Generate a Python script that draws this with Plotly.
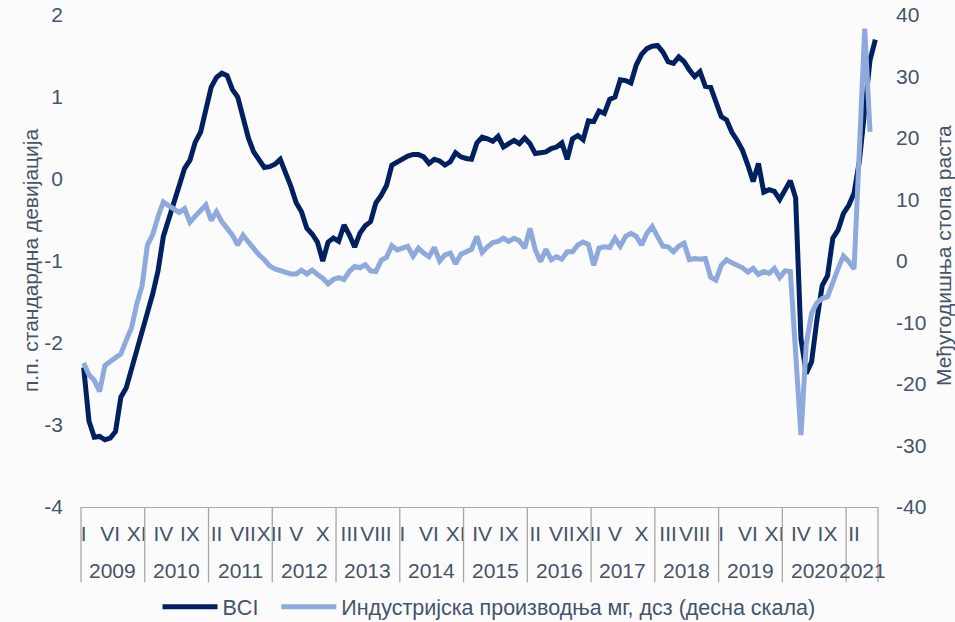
import plotly.graph_objects as go

# Monthly series, Jan 2009 - Jun 2021
years = [2009, 2010, 2011, 2012, 2013, 2014, 2015, 2016, 2017, 2018, 2019, 2020, 2021]
months_in_year = [12, 12, 12, 12, 12, 12, 12, 12, 12, 12, 12, 12, 6]
roman = ["I", "II", "III", "IV", "V", "VI", "VII", "VIII", "IX", "X", "XI", "XII"]

bci = [
    -2.30, -2.95, -3.15, -3.14, -3.18, -3.16, -3.08, -2.66, -2.55, -2.33, -2.12, -1.90,
    -1.63, -1.40, -1.12, -0.70, -0.48, -0.28, -0.05, 0.13, 0.23, 0.45, 0.57, 0.84,
    1.12, 1.24, 1.29, 1.26, 1.09, 1.00, 0.77, 0.50, 0.33, 0.23, 0.14, 0.15,
    0.18, 0.24, 0.09, -0.09, -0.29, -0.40, -0.60, -0.67, -0.77, -1.00, -0.77, -0.72,
    -0.76, -0.56, -0.68, -0.83, -0.66, -0.57, -0.52, -0.29, -0.20, -0.08, 0.17, 0.21,
    0.25, 0.28, 0.30, 0.30, 0.27, 0.19, 0.24, 0.22, 0.17, 0.21, 0.32, 0.27,
    0.25, 0.24, 0.44, 0.51, 0.49, 0.46, 0.52, 0.39, 0.43, 0.47, 0.43, 0.50,
    0.43, 0.31, 0.32, 0.33, 0.37, 0.39, 0.44, 0.24, 0.49, 0.53, 0.48, 0.71,
    0.70, 0.83, 0.80, 0.97, 1.00, 1.21, 1.20, 1.17, 1.39, 1.52, 1.59, 1.62,
    1.63, 1.55, 1.43, 1.41, 1.49, 1.43, 1.33, 1.25, 1.31, 1.13, 1.12, 0.93,
    0.76, 0.72, 0.57, 0.47, 0.35, 0.17, -0.03, 0.19, -0.16, -0.13, -0.15, -0.25,
    -0.13, -0.02, -0.23, -1.95, -2.37, -2.23, -1.72, -1.30, -1.18, -0.72, -0.62, -0.42,
    -0.32, -0.17, 0.22, 0.85, 1.45, 1.70,
]

industry = [
    -16.6, -18.5, -19.4, -21.2, -17.0, -16.4, -15.6, -15.1, -12.9, -10.9, -7.0, -4.0,
    2.6, 4.3, 7.2, 9.6, 9.0, 8.5, 7.9, 8.5, 6.3, 7.3, 8.3, 9.1,
    6.6, 8.0, 6.4, 5.3, 4.2, 2.6, 4.2, 3.1, 2.0, 1.0, 0.2, -0.8,
    -1.3, -1.6, -1.9, -2.1, -2.1, -1.5, -2.1, -1.5, -2.2, -2.8, -3.7, -3.0,
    -2.7, -3.0, -1.7, -0.9, -1.1, -0.6, -1.6, -1.7, 0.1, 0.6, 2.5, 1.8,
    2.1, 2.4, 0.8, 2.1, 1.3, 0.7, 2.2, 0.0, 1.0, 1.3, -0.45, 1.1,
    1.5, 1.9, 4.0, 1.4, 2.3, 3.0, 3.2, 3.7, 3.2, 3.7, 3.3, 2.1,
    5.3, 1.8, -0.1, 1.9, 0.2, 0.7, 0.3, 1.5, 1.5, 2.6, 3.1, 2.7,
    -0.7, 2.1, 2.3, 2.2, 3.7, 2.4, 4.0, 4.5, 4.0, 2.6, 4.5, 5.6,
    4.0, 2.4, 2.3, 1.5, 2.4, 2.9, 0.2, 0.4, 0.3, 0.4, -2.6, -3.1,
    -0.7, 0.2, -0.3, -0.6, -1.1, -1.8, -1.2, -2.2, -1.7, -2.0, -1.2, -2.7,
    -1.6, -1.7, -15.0, -28.3, -13.5, -8.5, -6.8, -6.1, -5.8, -3.3, -1.2, 0.8,
    -0.1, -1.3, 17.0, 37.8, 21.0,
]

left_ticks = [-4, -3, -2, -1, 0, 1, 2]
right_ticks = [-40, -30, -20, -10, 0, 10, 20, 30, 40]

n_months = sum(months_in_year)
x_bci = list(range(len(bci)))
x_ind = list(range(len(industry)))

# every fifth month gets a roman-numeral label
label_step = 5
tick_vals = list(range(0, n_months, label_step))
tick_text = [roman[i % 12] for i in tick_vals]

text_color = "#44546A"
grid_color = "#A6A6A6"
bg = "#FBFBFB"
font_family = "Liberation Sans, Arial, sans-serif"
fs = 21
legend_fs = 21.5

fig = go.Figure()
fig.add_trace(go.Scatter(
    x=x_bci, y=bci, name="BCI", mode="lines", showlegend=True,
    line=dict(color="#002060", width=5), legend="legend",
))
fig.add_trace(go.Scatter(
    x=x_ind, y=industry, name="Индустријска производња мг, дсз (десна скала)",
    mode="lines", showlegend=True, line=dict(color="#8EA9DB", width=5),
    yaxis="y2", legend="legend2",
))

# year boxes under the month labels
shapes = []
annotations = []
start = 0
bounds = [0]
for yr, cnt in zip(years, months_in_year):
    start += cnt
    bounds.append(start)
for b in bounds:
    xp = b / n_months
    shapes.append(dict(type="line", xref="paper", yref="paper",
                       x0=xp, x1=xp, y0=0, y1=-0.153,
                       line=dict(color=grid_color, width=1.3)))
for i, yr in enumerate(years):
    center = (bounds[i] + bounds[i + 1] - 1) / 2
    annotations.append(dict(text=str(yr), x=center, xref="x", y=0, yref="paper",
                            yanchor="middle", yshift=-63, showarrow=False,
                            font=dict(size=fs, color=text_color, family=font_family)))

annotations.append(dict(text="п.п. стандардна девијација", textangle=-90,
                        xref="paper", x=0, xshift=-51, xanchor="center",
                        yref="paper", y=0.5, yanchor="middle", showarrow=False,
                        font=dict(size=fs, color=text_color, family=font_family)))
annotations.append(dict(text="Међугодишња стопа раста", textangle=-90,
                        xref="paper", x=1, xshift=65, xanchor="center",
                        yref="paper", y=0.51, yanchor="middle", showarrow=False,
                        font=dict(size=fs, color=text_color, family=font_family)))

fig.update_layout(
    width=955, height=622,
    margin=dict(l=81, r=77, t=15, b=115, autoexpand=False),
    showlegend=True,
    paper_bgcolor=bg, plot_bgcolor=bg,
    font=dict(family=font_family, size=fs, color=text_color),
    xaxis=dict(range=[-0.5, n_months - 0.5], tickvals=tick_vals, ticktext=tick_text,
               tickangle=0,
               showgrid=False, zeroline=False, showline=True, linecolor=grid_color,
               linewidth=1.3, ticks="", ticklabelstandoff=8,
               tickfont=dict(size=fs, color=text_color)),
    yaxis=dict(range=[-4, 2], tickvals=left_ticks, ticktext=[str(v) for v in left_ticks],
               showgrid=False, zeroline=False, showline=False,
               ticks="", ticklabelstandoff=17, tickfont=dict(size=fs, color=text_color)),
    yaxis2=dict(range=[-40, 40], tickvals=right_ticks, ticktext=[str(v) for v in right_ticks],
                overlaying="y", side="right",
                showgrid=False, zeroline=False, showline=False, ticks="",
                ticklabelstandoff=17, tickfont=dict(size=fs, color=text_color)),
    legend=dict(orientation="h", x=0.096, xanchor="left", y=-0.203, yanchor="middle",
                itemwidth=55, bgcolor="rgba(0,0,0,0)",
                font=dict(size=legend_fs, color=text_color)),
    legend2=dict(orientation="h", x=0.245, xanchor="left", y=-0.203, yanchor="middle",
                 itemwidth=55, bgcolor="rgba(0,0,0,0)",
                 font=dict(size=legend_fs, color=text_color)),
    shapes=shapes,
    annotations=annotations,
)

fig.write_html("out.html")
